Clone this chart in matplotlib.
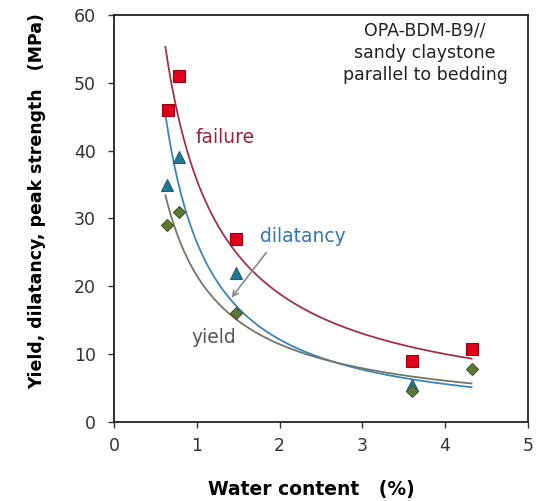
import numpy as np
import matplotlib
matplotlib.use("Agg")
import matplotlib.pyplot as plt

plt.rcParams['font.family'] = ['DejaVu Sans']

# data (water content %, strength MPa)
fail_x = [0.65, 0.78, 1.47, 3.60, 4.32]
fail_y = [46.0, 51.0, 27.0, 9.0, 10.7]
dil_x = [0.64, 0.78, 1.47, 3.60]
dil_y = [35.0, 39.0, 22.0, 5.5]
yld_x = [0.64, 0.78, 1.47, 3.60, 4.32]
yld_y = [29.0, 31.0, 16.0, 4.5, 7.8]

x_ticks = [0, 1, 2, 3, 4, 5]
y_ticks = [0, 10, 20, 30, 40, 50, 60]

fig = plt.figure(figsize=(5.38, 5.01), dpi=100)
ax = fig.add_axes([0.212, 0.158, 0.769, 0.812])

def power_fit(x, y):
    b, lna = np.polyfit(np.log(x), np.log(y), 1)
    return np.exp(lna), b

xs = np.linspace(0.62, 4.32, 200)
series = [
    (fail_x, fail_y, '#A33049', 's', '#E0001B', '#9A0010', 8.5),
    (dil_x, dil_y, '#3A86B8', '^', '#1F7A9A', '#2A5A70', 8.5),
    (yld_x, yld_y, '#72776A', 'D', '#5C7A34', '#3F5522', 6.5),
]
for x, y, lc, m, fc, ec, ms in series:
    a, b = power_fit(x, y)
    ax.plot(xs, a * xs ** b, color=lc, lw=1.3, zorder=2)
for x, y, lc, m, fc, ec, ms in series:
    ax.plot(x, y, m, ms=ms, mfc=fc, mec=ec, mew=0.8, ls='none', zorder=3)

ax.text(1.34, 41.9, 'failure', color='#A0203A', fontsize=13.5, ha='center', va='center')
ax.text(2.28, 27.3, 'dilatancy', color='#2E78B8', fontsize=13.5, ha='center', va='center')
ax.text(1.2, 12.4, 'yield', color='#555555', fontsize=13.5, ha='center', va='center')
ax.annotate('', xy=(1.40, 18.0), xytext=(1.86, 25.3),
            arrowprops=dict(arrowstyle='->', color='#8A8A8A', lw=1.2))

ax.text(0.752, 0.907, 'OPA-BDM-B9//\nsandy claystone\nparallel to bedding',
        transform=ax.transAxes, ha='center', va='center', fontsize=12.5,
        linespacing=1.3, color='#222222')

ax.set_xlim(0, 5)
ax.set_ylim(0, 60)
ax.set_xticks(x_ticks)
ax.set_yticks(y_ticks)
ax.tick_params(direction='out', length=4, width=1, labelsize=12.5, colors='#333333')
ax.tick_params(axis='y', pad=9)
ax.tick_params(axis='x', pad=7)
for s in ax.spines.values():
    s.set_color('#222222')
    s.set_linewidth(1.3)

ax.set_xlabel('Water content   (%)', fontsize=13.5, fontweight='bold')
ax.set_ylabel('Yield, dilatancy, peak strength   (MPa)', fontsize=12.5, fontweight='bold')
ax.xaxis.set_label_coords(0.476, -0.143)
ax.yaxis.set_label_coords(-0.165, 0.543)

fig.savefig('out.png', dpi=100)
